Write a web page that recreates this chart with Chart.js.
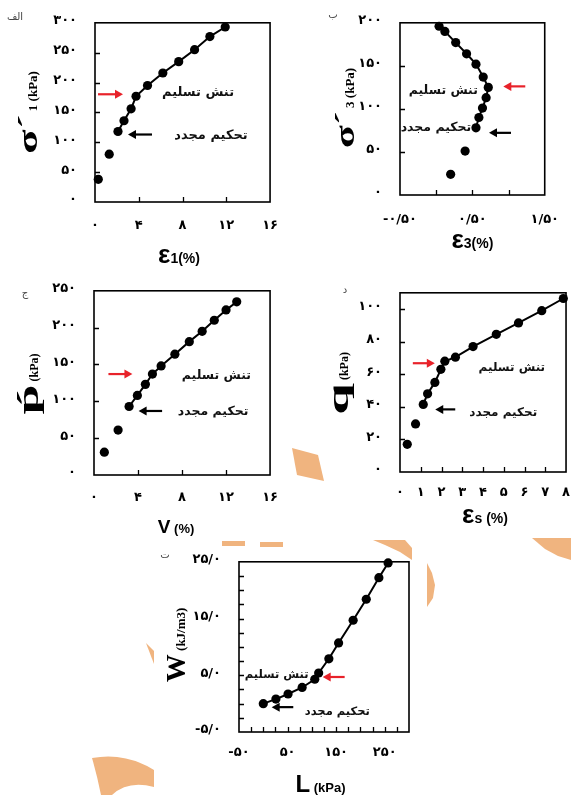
<!DOCTYPE html>
<html><head><meta charset="utf-8">
<script src="https://cdn.jsdelivr.net/npm/chart.js@4.4.1/dist/chart.umd.min.js"></script>
<style>
html,body{margin:0;padding:0;background:#fff;}
body{width:571px;height:795px;position:relative;overflow:hidden;}
canvas{position:absolute;}
svg{position:absolute;left:0;top:0;}
</style></head><body>
<svg width="571" height="795" fill="#F0B47F">
  <polygon points="292,448 318,455 324,481 297,475"/>
  <polygon points="222,541 245,541 245,546 222,546"/>
  <polygon points="260,542 283,542 283,547 260,547"/>
  <polygon points="373,540 405,540 412,548 412,560 400,552 385,545"/>
  <polygon points="427,563 432,573 435,585 433,598 427,607"/>
  <polygon points="532,538 571,538 571,560 558,556 545,549"/>
  <polygon points="146,643 154,651 154,664"/>
  <path d="M92,758 Q125,752 154,770 L154,787 Q128,780 112,795 L101,795 Q97,775 92,758 Z"/>
</svg>
<canvas id="c1"></canvas>
<canvas id="c2"></canvas>
<canvas id="c3"></canvas>
<canvas id="c4"></canvas>
<canvas id="c5"></canvas>
<script>
// ---------- data ----------
// Panel الف : σ'1 vs ε1
const eps1   = [0.3, 1.3, 2.1, 2.65, 3.3, 3.75, 4.8, 6.2, 7.65, 9.1, 10.5, 11.9];
const sigma1 = [38, 80, 118, 136, 156, 177, 195, 216, 235, 255, 277, 293];
// Panel ب : σ'3 vs ε3
const eps3   = [0.2, 0.4, 0.55, 0.59, 0.64, 0.69, 0.72, 0.65, 0.55, 0.42, 0.27, 0.12, 0.04];
const sigma3 = [24, 51, 78, 90, 101, 113, 125, 137, 152, 164, 177, 190, 196];
// Panel ج : p' vs v
const volStrain = [0.94, 2.19, 3.19, 3.94, 4.67, 5.31, 6.1, 7.35, 8.66, 9.83, 10.93, 12.0, 12.97];
const pMean     = [31, 61, 93, 108, 123, 137, 148, 164, 181, 195, 210, 224, 235];
// Panel د : q vs εs
const epsS = [0.35, 0.75, 1.12, 1.33, 1.68, 1.97, 2.16, 2.67, 3.52, 4.64, 5.71, 6.83, 7.87];
const qDev = [17, 29.5, 41.5, 48, 55, 63, 68, 70.5, 77, 84.5, 91.5, 99, 106.5];
// Panel ت : W vs L
const Lval = [0, 26, 51, 80, 106, 114, 135, 155, 185, 212, 238, 257];
const Wval = [0, 0.8, 1.7, 2.85, 4.3, 5.4, 7.9, 10.7, 14.7, 18.4, 22.2, 24.8];

// ---------- tick labels ----------
const x1TickValues = [0, 4, 8, 12, 16];
const x1TickLabels = ['۰', '۴', '۸', '۱۲', '۱۶'];
const y1TickValues = [0, 50, 100, 150, 200, 250, 300];
const y1TickLabels = ['۰', '۵۰', '۱۰۰', '۱۵۰', '۲۰۰', '۲۵۰', '۳۰۰'];
const x2TickValues = [-0.5, 0.5, 1.5];
const x2TickLabels = ['-۰/۵۰', '۰/۵۰', '۱/۵۰'];
const y2TickValues = [0, 50, 100, 150, 200];
const y2TickLabels = ['۰', '۵۰', '۱۰۰', '۱۵۰', '۲۰۰'];
const x3TickValues = [0, 4, 8, 12, 16];
const x3TickLabels = ['۰', '۴', '۸', '۱۲', '۱۶'];
const y3TickValues = [0, 50, 100, 150, 200, 250];
const y3TickLabels = ['۰', '۵۰', '۱۰۰', '۱۵۰', '۲۰۰', '۲۵۰'];
const x4TickValues = [0, 1, 2, 3, 4, 5, 6, 7, 8];
const x4TickLabels = ['۰', '۱', '۲', '۳', '۴', '۵', '۶', '۷', '۸'];
const y4TickValues = [0, 20, 40, 60, 80, 100];
const y4TickLabels = ['۰', '۲۰', '۴۰', '۶۰', '۸۰', '۱۰۰'];
const x5TickValues = [-50, 50, 150, 250];
const x5TickLabels = ['-۵۰', '۵۰', '۱۵۰', '۲۵۰'];
const y5TickValues = [-5, 5, 15, 25];
const y5TickLabels = ['-۵/۰', '۵/۰', '۱۵/۰', '۲۵/۰'];

// ---------- texts ----------
const yieldText = 'تنش تسلیم';
const reconText = 'تحکیم مجدد';
const panelNames = ['الف', 'ب', 'ج', 'د', 'ت'];

// ---------- layout / style ----------
const ML = 95, MT = 25, MR = 16, MB = 70;
const RED = '#E8222A', BLACK = '#000';
const SANS = '"Liberation Sans", Arial, sans-serif';
const SERIF = '"Liberation Serif", "Times New Roman", serif';

const PANELS = {
  c1: { box:[95,22,278,202], xs:eps1, ys:sigma1, lineFrom:2, fs:13, xPad:16,
        x:{min:0,max:16,step:4,vals:x1TickValues,labs:x1TickLabels},
        y:{min:0,max:300,step:50,vals:y1TickValues,labs:y1TickLabels},
        ann:[{idx:5,color:RED,tail:[-38,-2],head:[-13,-2],text:yieldText,at:[62,-4]},
             {idx:2,color:BLACK,tail:[34,3],head:[10,3],text:reconText,at:[93,4]}],
        xTitle:{parts:[['ε','bold 26px '+SANS,1],['1(%)','bold 14px '+SANS,1]],dx:-3.5,dy:61},
        yTitle:{parts:[['σ´','bold 28px '+SERIF,1.6],[' 1 (kPa)','bold 13px '+SERIF,1]],dx:-58,dy:0},
        name:panelNames[0], nameAt:[-80,-5] },
  c2: { box:[400,22,560,195], xs:eps3, ys:sigma3, lineFrom:2, fs:12.5, xPad:17,
        x:{min:-0.5,max:1.5,step:0.5,vals:x2TickValues,labs:x2TickLabels},
        y:{min:0,max:200,step:50,vals:y2TickValues,labs:y2TickLabels},
        ann:[{idx:6,color:RED,tail:[37,-1],head:[15,-1],text:yieldText,at:[-45,3]},
             {idx:2,color:BLACK,tail:[35,5],head:[13,5],text:reconText,at:[-40,0]}],
        xTitle:{parts:[['ε','bold 26px '+SANS,1],['3(%)','bold 14px '+SANS,1]],dx:0,dy:53},
        yTitle:{parts:[['σ´','bold 28px '+SERIF,1.5],[' 3 (kPa)','bold 13px '+SERIF,1]],dx:-46,dy:-1},
        name:panelNames[1], nameAt:[-67,-7] },
  c3: { box:[94,290,277,475], xs:volStrain, ys:pMean, lineFrom:2, fs:12.5, xPad:15,
        x:{min:0,max:16,step:4,vals:x3TickValues,labs:x3TickLabels},
        y:{min:0,max:250,step:50,vals:y3TickValues,labs:y3TickLabels},
        ann:[{idx:5,color:RED,tail:[-44,0],head:[-20,0],text:yieldText,at:[64,2]},
             {idx:2,color:BLACK,tail:[33,4.5],head:[9.5,4.5],text:reconText,at:[84,5]}],
        xTitle:{parts:[['V','bold 19px '+SANS,1],[' (%)','bold 13px '+SANS,1]],dx:-6,dy:58},
        yTitle:{parts:[['p\u0301','bold 30px '+SERIF,1.8],[' (kPa)','bold 12px '+SERIF,1]],dx:-56,dy:1},
        name:panelNames[2], nameAt:[-69,3] },
  c4: { box:[400,292,567,472], xs:epsS, ys:qDev, lineFrom:2, fs:12, xPad:13,
        x:{min:0,max:8,step:1,vals:x4TickValues,labs:x4TickLabels},
        y:{min:0,max:110,step:20,vals:y4TickValues,labs:y4TickLabels},
        ann:[{idx:6,color:RED,tail:[-32,2],head:[-10,2],text:yieldText,at:[67,7]},
             {idx:2,color:BLACK,tail:[32,5],head:[12,5],text:reconText,at:[80,8]}],
        xTitle:{parts:[['ε','bold 26px '+SANS,1],['s (%)','bold 14px '+SANS,1]],dx:2,dy:51},
        yTitle:{parts:[['q','bold 30px '+SERIF,1.9],[' (kPa)','bold 12px '+SERIF,1]],dx:-52,dy:1},
        name:panelNames[3], nameAt:[-55,-2] },
  c5: { box:[239,561,409,732], xs:Lval, ys:Wval, lineFrom:0, fs:11.5, xPad:13,
        x:{min:-50,max:300,step:25,vals:x5TickValues,labs:x5TickLabels},
        y:{min:-5,max:25,step:2.5,vals:y5TickValues,labs:y5TickLabels},
        ann:[{idx:5,color:RED,tail:[26,4],head:[4,4],text:yieldText,at:[-42,2]},
             {idx:0,color:BLACK,tail:[30,3.5],head:[8.4,3.5],text:reconText,at:[74,8]}],
        xTitle:{parts:[['L','bold 24px '+SANS,1],[' (kPa)','bold 13px '+SANS,1]],dx:-3.5,dy:60},
        yTitle:{parts:[['W','bold 28px '+SERIF,1],[' (kJ/m3)','bold 13px '+SERIF,1]],dx:-54,dy:-2},
        name:panelNames[4], nameAt:[-74,-6] }
};

function drawArrow(ctx, x1, y1, x2, y2, color) {
  const a = Math.atan2(y2 - y1, x2 - x1), hl = 8, hw = 4.5;
  const c = Math.cos(a), s = Math.sin(a);
  ctx.strokeStyle = color; ctx.fillStyle = color; ctx.lineWidth = 2.2;
  ctx.beginPath(); ctx.moveTo(x1, y1); ctx.lineTo(x2 - hl * c * 0.7, y2 - hl * s * 0.7); ctx.stroke();
  ctx.beginPath(); ctx.moveTo(x2, y2);
  ctx.lineTo(x2 - hl * c + hw * s, y2 - hl * s - hw * c);
  ctx.lineTo(x2 - hl * c - hw * s, y2 - hl * s + hw * c);
  ctx.closePath(); ctx.fill();
}

function drawParts(ctx, parts) {
  let total = 0;
  const widths = parts.map(p => { ctx.font = p[1]; const w = ctx.measureText(p[0]).width * p[2]; total += w; return w; });
  let x = -total / 2;
  parts.forEach((p, i) => {
    ctx.save(); ctx.font = p[1]; ctx.translate(x, 0); ctx.scale(p[2], 1);
    ctx.fillText(p[0], 0, 0); ctx.restore();
    x += widths[i];
  });
}

function isInner(v, sc, step) {
  const eps = 1e-7;
  if (v <= sc.min + eps || v >= sc.max - eps) return false;
  const r = v / step;
  return Math.abs(r - Math.round(r)) < 1e-6;
}

const panelPlugin = {
  id: 'panelFrame',
  beforeDatasetsDraw(chart) {
    const cfg = PANELS[chart.canvas.id];
    const { ctx, chartArea: a, scales: { x, y } } = chart;
    ctx.save();
    ctx.strokeStyle = '#000'; ctx.lineWidth = 1.6;
    ctx.strokeRect(a.left, a.top, a.right - a.left, a.bottom - a.top);
    ctx.lineWidth = 1.3;
    ctx.beginPath();
    x.ticks.forEach(t => {
      if (!isInner(t.value, x, cfg.x.step)) return;
      const px = Math.round(x.getPixelForValue(t.value)) + 0.5;
      ctx.moveTo(px, a.bottom); ctx.lineTo(px, a.bottom - 5);
    });
    y.ticks.forEach(t => {
      if (!isInner(t.value, y, cfg.y.step)) return;
      const py = Math.round(y.getPixelForValue(t.value)) + 0.5;
      ctx.moveTo(a.left, py); ctx.lineTo(a.left + 5, py);
    });
    ctx.stroke();
    ctx.restore();
  },
  afterDraw(chart) {
    const cfg = PANELS[chart.canvas.id];
    const { ctx, chartArea: a, scales: { x, y } } = chart;
    ctx.save();
    // annotations
    cfg.ann.forEach(an => {
      const px = x.getPixelForValue(cfg.xs[an.idx]);
      const py = y.getPixelForValue(cfg.ys[an.idx]);
      drawArrow(ctx, px + an.tail[0], py + an.tail[1], px + an.head[0], py + an.head[1], an.color);
      ctx.fillStyle = '#111';
      ctx.font = 'bold ' + cfg.fs + 'px "DejaVu Sans", sans-serif';
      ctx.textAlign = 'center'; ctx.textBaseline = 'middle';
      ctx.direction = 'rtl';
      ctx.fillText(an.text, px + an.at[0], py + an.at[1]);
      ctx.direction = 'ltr';
    });
    // titles
    ctx.fillStyle = '#000';
    ctx.textAlign = 'left'; ctx.textBaseline = 'alphabetic';
    const cx = (a.left + a.right) / 2, cy = (a.top + a.bottom) / 2;
    ctx.save();
    ctx.translate(cx + cfg.xTitle.dx, a.bottom + cfg.xTitle.dy);
    drawParts(ctx, cfg.xTitle.parts);
    ctx.restore();
    ctx.save();
    ctx.translate(a.left + cfg.yTitle.dx, cy + cfg.yTitle.dy);
    ctx.rotate(-Math.PI / 2);
    drawParts(ctx, cfg.yTitle.parts);
    ctx.restore();
    // panel name
    ctx.fillStyle = '#444';
    ctx.font = '10px "DejaVu Sans", sans-serif';
    ctx.textAlign = 'center'; ctx.textBaseline = 'middle';
    ctx.direction = 'rtl';
    ctx.fillText(cfg.name, a.left + cfg.nameAt[0], a.top + cfg.nameAt[1]);
    ctx.restore();
  }
};

function tickCallback(axisCfg) {
  return function (value) {
    const i = axisCfg.vals.findIndex(v => Math.abs(v - value) < 1e-7);
    return i >= 0 ? axisCfg.labs[i] : '';
  };
}

const tickFont = { family: '"DejaVu Sans", sans-serif', size: 13, weight: 'bold' };

Object.keys(PANELS).forEach(id => {
  const cfg = PANELS[id];
  const [l, t, r, b] = cfg.box;
  const cv = document.getElementById(id);
  const W = (r - l) + ML + MR, H = (b - t) + MT + MB;
  cv.width = W; cv.height = H;
  cv.style.width = W + 'px'; cv.style.height = H + 'px';
  cv.style.left = (l - ML) + 'px'; cv.style.top = (t - MT) + 'px';
  const pts = cfg.xs.map((v, i) => ({ x: v, y: cfg.ys[i] }));
  new Chart(cv, {
    type: 'scatter',
    data: { datasets: [
      { data: pts, showLine: false, pointRadius: 4.6, pointBackgroundColor: '#000', pointBorderWidth: 0, clip: false, order: 0 },
      { data: pts.slice(cfg.lineFrom), showLine: true, borderColor: '#000', borderWidth: 2, pointRadius: 0, clip: false, order: 1 }
    ] },
    options: {
      responsive: false, animation: false, events: [],
      layout: { padding: { left: 0, top: MT, right: MR, bottom: 0 } },
      plugins: { legend: { display: false }, tooltip: { enabled: false } },
      scales: {
        x: { type: 'linear', min: cfg.x.min, max: cfg.x.max,
             afterFit(s) { s.height = MB; },
             grid: { display: false, drawTicks: false }, border: { display: false },
             ticks: { stepSize: cfg.x.step, includeBounds: false, autoSkip: false, maxRotation: 0, padding: cfg.xPad,
                      color: '#000', font: tickFont, callback: tickCallback(cfg.x) } },
        y: { type: 'linear', min: cfg.y.min, max: cfg.y.max,
             afterFit(s) { s.width = ML; },
             grid: { display: false, drawTicks: false }, border: { display: false },
             ticks: { stepSize: cfg.y.step, includeBounds: false, autoSkip: false, padding: 18, labelOffset: -2,
                      color: '#000', font: tickFont, callback: tickCallback(cfg.y) } }
      }
    },
    plugins: [panelPlugin]
  });
});
</script>
</body></html>
